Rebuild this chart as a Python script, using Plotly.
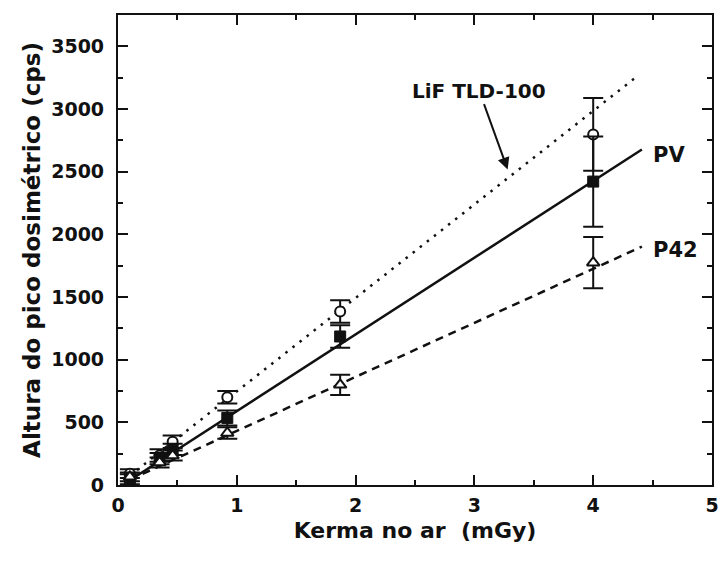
import plotly.graph_objects as go

# Data
kerma = [0.10, 0.35, 0.46, 0.92, 1.87, 4.00]
lif_vals = [90, 235, 345, 700, 1385, 2797]
lif_err = [35, 50, 50, 50, 90, 290]
pv_vals = [45, 210, 285, 535, 1185, 2421]
pv_err = [40, 45, 45, 60, 90, 360]
p42_vals = [65, 180, 235, 415, 799, 1774]
p42_err = [35, 40, 40, 45, 80, 205]

# fitted lines (end points)
lif_fit_x = [0.10, 4.37]
lif_fit_y = [75, 3261]
pv_fit_x = [0.10, 4.41]
pv_fit_y = [38, 2677]
p42_fit_x = [0.10, 4.41]
p42_fit_y = [43, 1902]

FONT = "DejaVu Sans"
BLACK = "#111111"

fig = go.Figure()

fig.add_trace(go.Scatter(x=lif_fit_x, y=lif_fit_y, mode="lines",
                         line=dict(color=BLACK, width=2.5, dash="2.5px,6.5px"),
                         showlegend=False))
fig.add_trace(go.Scatter(x=pv_fit_x, y=pv_fit_y, mode="lines",
                         line=dict(color=BLACK, width=2.5),
                         showlegend=False))
fig.add_trace(go.Scatter(x=p42_fit_x, y=p42_fit_y, mode="lines",
                         line=dict(color=BLACK, width=2.5, dash="8px,6px"),
                         showlegend=False))

err_style = dict(type="data", thickness=2, width=10, color=BLACK)

fig.add_trace(go.Scatter(x=kerma, y=lif_vals, mode="markers",
                         error_y=dict(array=lif_err, **err_style),
                         marker=dict(symbol="circle", size=10, color="white",
                                     line=dict(color=BLACK, width=2)),
                         showlegend=False))
fig.add_trace(go.Scatter(x=kerma, y=pv_vals, mode="markers",
                         error_y=dict(array=pv_err, **err_style),
                         marker=dict(symbol="square", size=11, color=BLACK,
                                     line=dict(color=BLACK, width=1)),
                         showlegend=False))
fig.add_trace(go.Scatter(x=kerma, y=p42_vals, mode="markers",
                         error_y=dict(array=p42_err, **err_style),
                         marker=dict(symbol="triangle-up", size=11, color="white",
                                     line=dict(color=BLACK, width=2)),
                         showlegend=False))

fig.add_annotation(x=3.28, y=2517, ax=3.04, ay=3147, xref="x", yref="y",
                   axref="x", ayref="y", text="LiF TLD-100", showarrow=True,
                   arrowhead=2, arrowsize=1.2, arrowwidth=2, arrowcolor=BLACK,
                   standoff=0, font=dict(family=FONT, size=20, color=BLACK, weight="bold"))
fig.add_annotation(x=4.64, y=2637, text="PV", showarrow=False,
                   font=dict(family=FONT, size=21, color=BLACK, weight="bold"))
fig.add_annotation(x=4.69, y=1878, text="P42", showarrow=False,
                   font=dict(family=FONT, size=21, color=BLACK, weight="bold"))

axis_common = dict(showgrid=False, zeroline=False, showline=True, linecolor=BLACK,
                   linewidth=2.2, mirror="ticks", ticks="inside", ticklen=10,
                   tickwidth=2, tickcolor=BLACK,
                   tickfont=dict(family=FONT, size=19, color=BLACK, weight="bold"))

fig.update_layout(
    width=726, height=564,
    margin=dict(l=118, r=7, t=15, b=79),
    paper_bgcolor="white", plot_bgcolor="white",
    xaxis=dict(range=[0, 5], tickmode="array", tickvals=[0, 1, 2, 3, 4, 5],
               minor=dict(ticks="inside", ticklen=5, tickwidth=2, dtick=0.5,
                          tickcolor=BLACK),
               ticklabelstandoff=2,
               title=dict(text="Kerma no ar \u00a0(mGy)", standoff=8,
                          font=dict(family=FONT, size=22, color=BLACK, weight="bold")),
               **axis_common),
    yaxis=dict(range=[0, 3750], tickmode="array",
               tickvals=[0, 500, 1000, 1500, 2000, 2500, 3000, 3500],
               minor=dict(ticks="inside", ticklen=5, tickwidth=2, dtick=250,
                          tickcolor=BLACK),
               ticklabelstandoff=8,
               title=dict(text="Altura do pico dosimétrico (cps)", standoff=4,
                          font=dict(family=FONT, size=23, color=BLACK, weight="bold")),
               **axis_common),
)

fig.write_html("out.html")
